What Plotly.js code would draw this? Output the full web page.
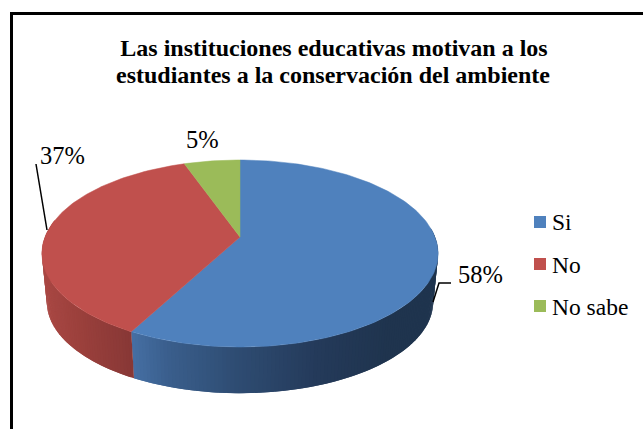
<!DOCTYPE html>
<html><head><meta charset="utf-8">
<script src="https://cdn.plot.ly/plotly-3.0.1.min.js"></script>
<style>html,body{margin:0;padding:0;background:#fff}</style></head>
<body><div id="chart" style="width:643px;height:429px"></div>
<script>
const categories = ['Si', 'No', 'No sabe'];
const values = [57.8, 36.8, 5.4];
const labels = ['58%', '37%', '5%'];
const colors = ['#4F81BD', '#C0504D', '#9BBB59'];
const titleLine1 = 'Las instituciones educativas motivan a los';
const titleLine2 = 'estudiantes a la conservación del ambiente';
const serif = '"Liberation Serif","Times New Roman",serif';

// Projection of a tilted disc onto the page
const cx = 240, cy = 237, A = 195, B = 90.6, P = 0.1765;
const rim = t => { const u = Math.sin(t), v = Math.cos(t), d = 1 + P * v;
  return [cx + A * u / d, cy - B * v / d]; };
const base = t => { const r = rim(t);
  return [cx + 0.975 * (r[0] - cx), 302 + 0.975 * (r[1] - 253.5)]; };

const total = values.reduce((a, b) => a + b, 0);
const rad = d => d * Math.PI / 180;
const traces = [];

// Side wall, shaded in narrow overlapping strips
const wallStops = {
  0: [[131, [70, 112, 165]], [170, [58, 94, 140]], [240, [46, 76, 114]], [320, [36, 58, 90]], [390, [31, 52, 78]], [440, [31, 52, 78]]],
  1: [[40, [170, 72, 68]], [80, [155, 64, 60]], [131, [136, 56, 54]]]
};
const shade = (stops, x) => {
  if (x <= stops[0][0]) return stops[0][1];
  for (let i = 1; i < stops.length; i++) if (x <= stops[i][0]) {
    const f = (x - stops[i - 1][0]) / (stops[i][0] - stops[i - 1][0]);
    return stops[i - 1][1].map((c, k) => Math.round(c + f * (stops[i][1][k] - c)));
  }
  return stops[stops.length - 1][1];
};
let start = 0;
const spans = values.map(v => { const s = [start, start + v / total * 360]; start = s[1]; return s; });
const wallFrom = 84, wallTo = 281;
[0, 1].forEach(i => {
  const a0 = Math.max(spans[i][0], wallFrom), a1 = Math.min(spans[i][1], wallTo);
  const n = Math.ceil((a1 - a0) / 1);
  for (let k = 0; k < n; k++) {
    // each strip runs on under the next one so no seams show
    const t0 = rad(a0 + (a1 - a0) * k / n), t1 = rad(a0 + (a1 - a0) * Math.min(n, k + 2) / n);
    const p = [rim(t0), rim(t1), base(t1), base(t0), rim(t0)];
    const c = shade(wallStops[i], p[0][0]);
    const col = `rgb(${c[0]},${c[1]},${c[2]})`;
    traces.push({ type: 'scatter', mode: 'none', x: p.map(q => q[0]), y: p.map(q => q[1]),
      fill: 'toself', fillcolor: col, hoverinfo: 'skip', showlegend: false });
  }
});

// Top face slices
values.forEach((v, i) => {
  const pts = [[cx, cy]], n = Math.ceil(v * 3);
  for (let k = 0; k <= n; k++) pts.push(rim(rad(spans[i][0] + (spans[i][1] - spans[i][0]) * k / n)));
  pts.push([cx, cy]);
  traces.push({ type: 'scatter', mode: 'lines', name: categories[i], x: pts.map(q => q[0]), y: pts.map(q => q[1]),
    fill: 'toself', fillcolor: colors[i], line: { color: colors[i], width: 0.5 }, hoverinfo: 'name', showlegend: false });
});

// Legend swatches
traces.push({ type: 'scatter', mode: 'markers', x: [540, 540, 540], y: [222, 264, 306],
  marker: { symbol: 'square', size: 12, color: colors }, hoverinfo: 'skip', showlegend: false });

const shapes = [
  { type: 'path', xref: 'x', yref: 'y', path: 'M11.5,429 L11.5,13.5 L643,13.5', line: { color: '#000', width: 3 } },
  { type: 'path', xref: 'x', yref: 'y', path: 'M36,164 L47,230', line: { color: '#000', width: 1.5 } },
  { type: 'path', xref: 'x', yref: 'y', path: 'M433,302 L439,283 L451,283', line: { color: '#000', width: 1.5 } }
];
const ann = (t, x, y, size) => ({ text: t, x, y, xref: 'x', yref: 'y', showarrow: false, xanchor: 'left', yanchor: 'middle',
  font: { family: serif, size: size, color: '#000' } });

Plotly.newPlot('chart', traces, {
  width: 643, height: 429, margin: { l: 0, r: 0, t: 0, b: 0 }, paper_bgcolor: '#fff', plot_bgcolor: '#fff', showlegend: false,
  xaxis: { range: [0, 643], visible: false, fixedrange: true },
  yaxis: { range: [429, 0], visible: false, fixedrange: true },
  title: { text: '<b>' + titleLine1 + '</b>', x: 334 / 643, xanchor: 'center', y: 1 - 48 / 429, yanchor: 'middle', font: { family: serif, size: 24, color: '#000' } },
  shapes,
  annotations: [
    { text: '<b>' + titleLine2 + '</b>', x: 333, y: 75, xref: 'x', yref: 'y', showarrow: false, xanchor: 'center', yanchor: 'middle', font: { family: serif, size: 24, color: '#000' } },
    ann(labels[0], 456, 274, 24.5), ann(labels[1], 38, 155, 24.5), ann(labels[2], 184, 139, 24.5),
    ann(categories[0], 549.5, 222, 23.5), ann(categories[1], 549.5, 265, 23.5), ann(categories[2], 549.5, 307, 23.5)
  ]
}, { displayModeBar: false, staticPlot: true });
</script></body></html>
